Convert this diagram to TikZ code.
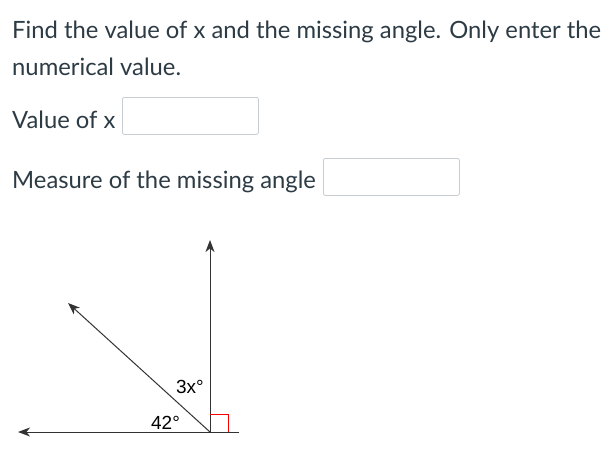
\documentclass[tikz,border=0pt]{standalone}
\usepackage{fontspec}
\setmainfont{Lato}
\newfontfamily\figfont{Liberation Sans}
\usetikzlibrary{arrows.meta,positioning}
\definecolor{txtgray}{HTML}{2D3B45}
\definecolor{boxgray}{HTML}{C7CDD1}
\tikzset{
  prompt/.style={anchor=base west,inner sep=0pt,text=txtgray,font=\fontsize{23.8}{28}\selectfont},
  answerbox/.style={draw=boxgray,rounded corners=2pt,line width=0.8pt,minimum width=136pt,minimum height=37pt,inner sep=0pt},
  ray/.style={line width=1pt,draw=black!80,-{Stealth[length=12pt,width=9pt,inset=3.5pt]}},
  anglelabel/.style={inner sep=0pt,font=\figfont\fontsize{19}{21}\selectfont}
}
\begin{document}
\begin{tikzpicture}[x=1pt,y=-1pt]
      \useasboundingbox[fill=white] (0,0) rectangle (615,458);
      % question text
      \node[prompt] (line1) at (12,38) {Find the value of x and the missing angle. Only enter the};
      \node[prompt] (line2) at (12,75) {numerical value.};
      \node[prompt] (xlabel) at (12,128) {Value of x};
      \node[answerbox,anchor=north west] (xbox) at (122,97) {};
      \node[prompt] (anglabel) at (12,188) {Measure of the missing angle};
      \node[answerbox,anchor=north west] (anglebox) at (323,158) {};
      % figure
      \coordinate (O) at (210,432);
      \coordinate (left) at (18,432);
      \coordinate (right) at (239,432);
      \coordinate (up) at (210,240);
      \coordinate (diag) at (68,303);
      \draw[ray] (right) -- (left);
      \draw[ray] (O) -- (up);
      \draw[ray] (O) -- (diag);
      \draw[red,line width=1pt] (O) ++(0,-18) -| ++(18.5,18);
      \node[anglelabel] (a3x) at (190,387) {3x°};
      \node[anglelabel] (a42) at (165.5,423) {42°};
    \end{tikzpicture}
\end{document}
